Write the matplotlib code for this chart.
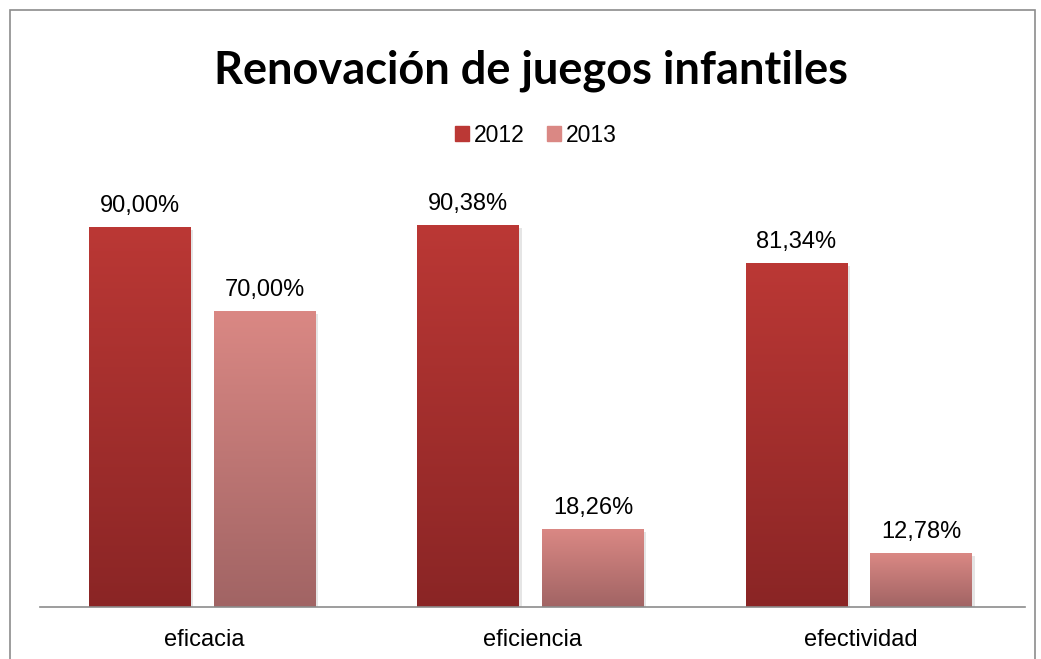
import matplotlib.pyplot as plt
import numpy as np
from matplotlib.colors import LinearSegmentedColormap
from matplotlib.patches import Rectangle

categories = ['eficacia', 'eficiencia', 'efectividad']
years = ['2012', '2013']
values_2012 = [90.00, 90.38, 81.34]
values_2013 = [70.00, 18.26, 12.78]

# top / bottom colour of each series gradient
grad_2012 = ('#8a2525', '#bb3835')
grad_2013 = ('#a16464', '#da8884')

fig = plt.figure(figsize=(10.41, 6.59), dpi=100)
ax = fig.add_axes([40 / 1041, 52 / 659, 985 / 1041, 422 / 659])

# outer chart frame
fig.patches.append(Rectangle((10 / 1041, -0.1), 1025 / 1041, 1.1 - 10 / 659,
                             transform=fig.transFigure, fill=False,
                             edgecolor='#8c8c8c', linewidth=1.2))

x = np.arange(len(categories))
width = 0.31
offset = 0.19

for vals, grad, sign, name in [(values_2012, grad_2012, -1, '2012'),
                               (values_2013, grad_2013, 1, '2013')]:
    bars = ax.bar(x + sign * offset - 0.006, vals, width, color=grad[1],
                  label=name, zorder=2)
    cmap = LinearSegmentedColormap.from_list(name, [grad[0], grad[1]])
    for b, v in zip(bars, vals):
        x0 = b.get_x()
        x1 = x0 + b.get_width()
        # soft drop shadow
        ax.add_patch(Rectangle((x0 + 0.008, -0.6), b.get_width(), v,
                               facecolor='#000000', alpha=0.10,
                               edgecolor='none', zorder=1))
        grad_img = np.linspace(0, 1, 256).reshape(-1, 1)
        ax.imshow(grad_img, cmap=cmap, origin='lower', aspect='auto',
                  extent=(x0, x1, 0, v), zorder=3)
        ax.text(b.get_x() + b.get_width() / 2, v + 2.5,
                f'{v:.2f}%'.replace('.', ','), ha='center', va='bottom',
                fontsize=17, family='Liberation Sans', color='#000000',
                zorder=4)

ax.set_xlim(-0.5, 2.5)
ax.set_ylim(0, 100)
ax.set_xticks(x)
ax.set_xticklabels(categories, fontsize=17, family='Liberation Sans')
ax.tick_params(axis='x', length=0, pad=16)
ax.set_yticks([])
for side in ['top', 'right', 'left']:
    ax.spines[side].set_visible(False)
ax.spines['bottom'].set_color('#8c8c8c')
ax.spines['bottom'].set_linewidth(1.2)
ax.spines['bottom'].set_zorder(5)

fig.text(531 / 1041, 1 - 71 / 659, 'Renovación de juegos infantiles',
         ha='center', va='center', fontsize=32.5, fontweight='bold',
         family='Lato')

leg = fig.legend(loc='center', bbox_to_anchor=(536 / 1041, 1 - 135 / 659),
                 ncol=2, frameon=False, handlelength=0.6, handleheight=0.6,
                 handletextpad=0.2, columnspacing=1.0,
                 prop={'family': 'Liberation Sans', 'size': 16.5})
for h, g in zip(leg.legend_handles, [grad_2012, grad_2013]):
    h.set_color(g[1])

fig.savefig('out.png', dpi=100)
